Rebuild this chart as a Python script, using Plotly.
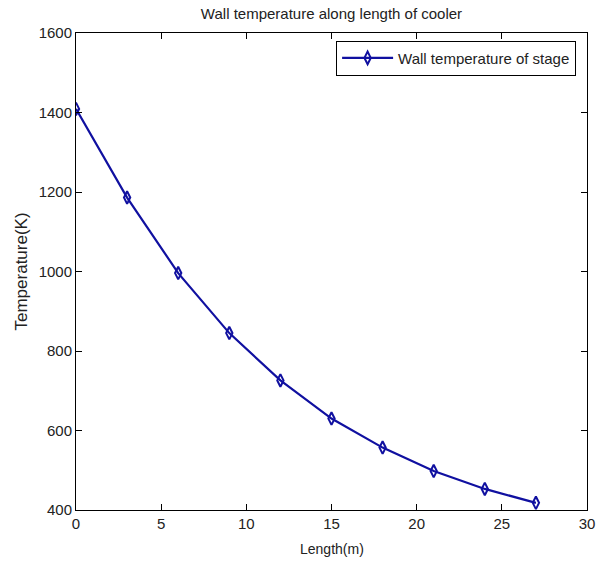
import plotly.graph_objects as go

length_m = [0, 3, 6, 9, 12, 15, 18, 21, 24, 27]
wall_temp_k = [1409, 1186, 996, 845, 726, 630, 557, 498, 453, 418]
series_name = "Wall temperature of stage"
x_ticks = [0, 5, 10, 15, 20, 25, 30]
y_ticks = [400, 600, 800, 1000, 1200, 1400, 1600]
x_label = "Length(m)"
y_label = "Temperature(K)"
chart_title = "Wall temperature along length of cooler"

FONT = "Liberation Sans"
BLUE = "#1010a0"
TXT = "#222"

fig = go.Figure()
fig.add_trace(go.Scatter(
    x=length_m, y=wall_temp_k, name=series_name,
    mode="lines+markers",
    line=dict(color=BLUE, width=2.2),
    marker=dict(symbol="diamond-tall-open", size=9, color=BLUE,
                line=dict(color=BLUE, width=2)),
))

axis_common = dict(
    showline=True, linecolor="black", linewidth=1, mirror="ticks",
    ticks="inside", ticklen=6, tickcolor="black", tickwidth=1,
    showgrid=False, zeroline=False, automargin=False,
    tickfont=dict(family=FONT, size=15, color=TXT),
)

fig.update_layout(
    width=604, height=562,
    margin=dict(l=76, r=17, t=33, b=52),
    paper_bgcolor="white", plot_bgcolor="white",
    title=dict(text=chart_title,
               x=0.5, xref="paper", y=1 - 14 / 562, yanchor="middle",
               font=dict(family=FONT, size=15, color=TXT)),
    xaxis=dict(range=[0, 30], tickvals=x_ticks, **axis_common),
    yaxis=dict(range=[400, 1600], tickvals=y_ticks, **axis_common),
    legend=dict(x=0.509, y=0.984, xanchor="left", yanchor="top",
                bordercolor="black", borderwidth=1, bgcolor="white",
                itemwidth=51,
                font=dict(family=FONT, size=15, color=TXT)),
    showlegend=True,
    annotations=[
        dict(text=x_label, xref="paper", yref="paper", x=0.5,
             y=-(549 - 510) / 477, xanchor="center", yanchor="middle",
             showarrow=False, font=dict(family=FONT, size=14, color=TXT)),
        dict(text=y_label, xref="paper", yref="paper",
             x=-(76 - 21) / 511, y=0.5, xanchor="center", yanchor="middle",
             textangle=-90, showarrow=False,
             font=dict(family=FONT, size=17, color=TXT)),
    ],
)

fig.write_html("out.html")
